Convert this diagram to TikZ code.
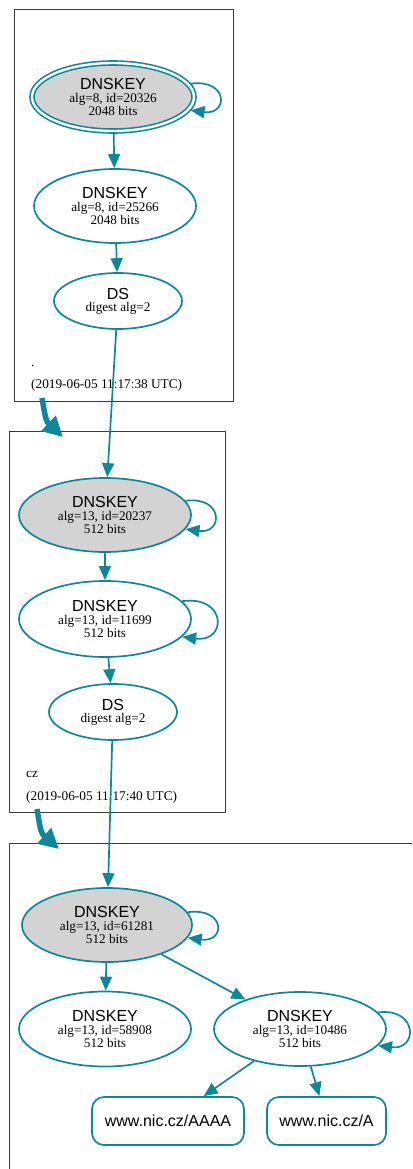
\documentclass[tikz,border=0pt]{standalone}
\usepackage{fontspec}
\setmainfont{Liberation Serif}
\setsansfont{Liberation Sans}
\usetikzlibrary{arrows.meta,shapes.geometric}
\definecolor{dnsteal}{HTML}{0C889A}
\definecolor{keygray}{HTML}{D3D3D3}
\definecolor{zoneline}{HTML}{3A3A3A}
\newcommand\headfont{\sffamily\fontsize{16}{16}\selectfont}
\newcommand\subfont{\rmfamily\fontsize{13.2}{13.2}\selectfont}
% three-line DNSKEY label and two-line DS label
\newcommand\keylabel[3]{\vbox{\baselineskip=12.9pt\lineskiplimit=-20pt\lineskip=0pt
  \halign{\hfil##\hfil\cr\headfont #1\cr\subfont #2\cr\subfont #3\cr}}}
\newcommand\dslabel[2]{\vbox{\baselineskip=12pt\lineskiplimit=-20pt\lineskip=0pt
  \halign{\hfil##\hfil\cr\headfont #1\cr\subfont #2\cr}}}
\tikzset{
  key/.style={ellipse, draw=dnsteal, line width=1.7pt, inner sep=0pt, fill=white},
  sep/.style={key, fill=keygray},
  trust/.style={sep, double=white, double distance=2.4pt, line width=1.6pt},
  rrset/.style={rectangle, rounded corners=12pt, draw=dnsteal, line width=1.7pt,
    minimum width=152pt, minimum height=48pt, inner sep=0pt, font=\headfont},
  arr/.style={draw=dnsteal, line width=1.7pt, -{Triangle[length=14pt,width=12pt]}},
  zonearr/.style={draw=dnsteal, line width=5.5pt, -{Triangle[length=20pt,width=20pt]}},
  zone/.style={draw=zoneline, line width=1pt},
  zonelabel/.style={anchor=base west, inner sep=0pt, font=\rmfamily\fontsize{13.3}{13.3}\selectfont}
}
\begin{document}
\begin{tikzpicture}[x=1pt, y=-1pt]
\useasboundingbox (0,0) rectangle (412,1169);
\clip (0,0) rectangle (412,1169);

% zone boxes
\draw[zone] (14,10) rectangle (233,401);
\draw[zone] (9,431) rectangle (225,812);
\draw[zone] (9,843) rectangle (430,1190);

% zone labels
\node[zonelabel] (rootname) at (31,366) {.};
\node[zonelabel] (roottime) at (31,388) {(2019-06-05 11:17:38 UTC)};
\node[zonelabel] (czname) at (26,777.5) {cz};
\node[zonelabel] (cztime) at (26,800) {(2019-06-05 11:17:40 UTC)};

% root zone
\node[trust, minimum width=162pt, minimum height=68pt] (k20326) at (113,97)
  {\keylabel{DNSKEY}{alg=8, id=20326}{2048 bits}};
\node[key, minimum width=162pt, minimum height=74pt] (k25266) at (115,206)
  {\keylabel{DNSKEY}{alg=8, id=25266}{2048 bits}};
\node[key, minimum width=128pt, minimum height=56pt] (dscz) at (118,301)
  {\dslabel{DS}{digest alg=2}};

% cz zone
\node[sep, minimum width=172pt, minimum height=74pt] (k20237) at (105,515)
  {\keylabel{DNSKEY}{alg=13, id=20237}{512 bits}};
\node[key, minimum width=172pt, minimum height=76pt] (k11699) at (105,619)
  {\keylabel{DNSKEY}{alg=13, id=11699}{512 bits}};
\node[key, minimum width=128pt, minimum height=56pt] (dsnic) at (113,712)
  {\dslabel{DS}{digest alg=2}};

% nic.cz zone
\node[sep, minimum width=170pt, minimum height=74pt] (k61281) at (107,925)
  {\keylabel{DNSKEY}{alg=13, id=61281}{512 bits}};
\node[key, minimum width=172pt, minimum height=75pt] (k58908) at (105,1029)
  {\keylabel{DNSKEY}{alg=13, id=58908}{512 bits}};
\node[key, minimum width=172pt, minimum height=74pt] (k10486) at (300,1029)
  {\keylabel{DNSKEY}{alg=13, id=10486}{512 bits}};
\node[rrset] (aaaa) at (168,1121) {www.nic.cz/AAAA};
\node[rrset, minimum width=119pt] (arec) at (326.5,1121) {www.nic.cz/A};

% delegation arrows between zones
\coordinate (rootout) at (42,398);
\coordinate (czin) at (63,437);
\coordinate (czout) at (37,809);
\coordinate (nicin) at (59,849);
\draw[zonearr] (rootout) .. controls (46,421) .. (czin);
\draw[zonearr] (czout) .. controls (41,833) .. (nicin);

% signing and digest edges
\draw[arr] (k20326) -- (k25266);
\draw[arr] (k25266) -- (dscz);
\draw[arr] (dscz) -- (k20237);
\draw[arr] (k20237) -- (k11699);
\draw[arr] (k11699) -- (dsnic);
\draw[arr] (dsnic) -- (k61281);
\draw[arr] (k61281) -- (k58908);
\draw[arr] (k61281) -- (k10486);
\draw[arr] (k10486) -- (aaaa);
\draw[arr] (k10486) -- (arec);

% self-signatures
\draw[arr] ([xshift=2pt]k20326.10) .. controls +(38,-5) and +(38,5) .. ([xshift=2pt]k20326.-10);
\draw[arr] (k20237.10) .. controls +(38,-5) and +(38,5) .. (k20237.-10);
\draw[arr] (k11699.13) .. controls +(45,-6) and +(45,6) .. (k11699.-13);
\draw[arr] (k61281.9) .. controls +(38,-5) and +(38,5) .. (k61281.-9);
\draw[arr] (k10486.12) .. controls +(40,-5) and +(40,5) .. (k10486.-12);
\end{tikzpicture}
\end{document}
